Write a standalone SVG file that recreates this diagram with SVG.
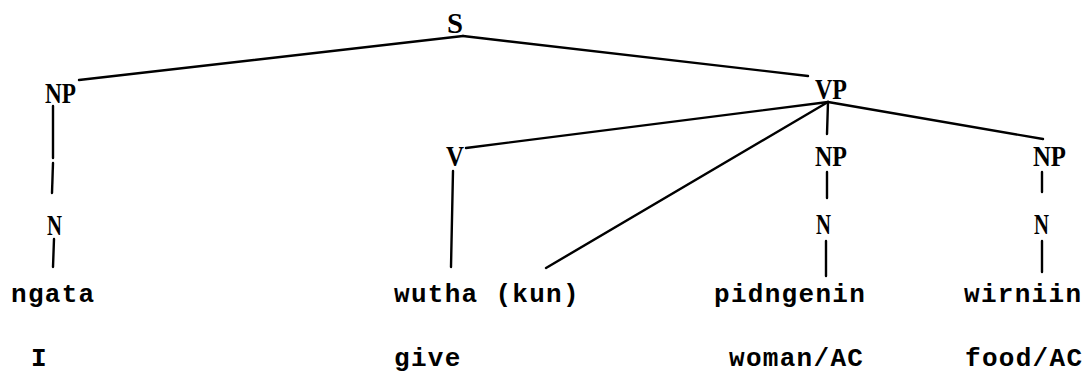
<svg xmlns="http://www.w3.org/2000/svg" width="1087" height="374" viewBox="0 0 1087 374">
<style>
.lab{font-family:"Liberation Serif","Times New Roman",serif;font-weight:bold;font-size:29px;fill:#000}
.wd{font-family:"Liberation Mono","Courier New",monospace;font-weight:bold;font-size:26px;letter-spacing:1.3px;fill:#000}
.ln{stroke:#000;stroke-width:2.4;fill:none;stroke-linecap:round}
</style>
<rect width="1087" height="374" fill="#fff"/>
<g id="connectors" class="ln">
<line x1="463" y1="36" x2="79" y2="80"/>
<line x1="463" y1="36" x2="808" y2="76"/>
<line x1="828" y1="102" x2="466" y2="148"/>
<line x1="828" y1="102" x2="827" y2="134"/>
<line x1="828" y1="102" x2="1043" y2="139"/>
<line x1="828" y1="102" x2="546" y2="268"/>
<line x1="53" y1="106" x2="53" y2="158"/>
<line x1="53" y1="163" x2="52" y2="193"/>
<line x1="54" y1="239" x2="53" y2="267"/>
<line x1="453" y1="171" x2="451" y2="267"/>
<line x1="827" y1="172" x2="827" y2="198"/>
<line x1="826" y1="241" x2="826" y2="276"/>
<line x1="1042" y1="172" x2="1042" y2="192"/>
<line x1="1042" y1="241" x2="1042" y2="272"/>
</g>
<g id="S"><text class="lab" x="447" y="33" textLength="16" lengthAdjust="spacingAndGlyphs">S</text></g>
<g id="NP1"><text class="lab" x="45" y="103" textLength="31" lengthAdjust="spacingAndGlyphs">NP</text></g>
<g id="VP"><text class="lab" x="815" y="99" textLength="32" lengthAdjust="spacingAndGlyphs">VP</text></g>
<g id="V"><text class="lab" x="446" y="166" textLength="18" lengthAdjust="spacingAndGlyphs">V</text></g>
<g id="NP2"><text class="lab" x="815" y="166" textLength="32" lengthAdjust="spacingAndGlyphs">NP</text></g>
<g id="NP3"><text class="lab" x="1033" y="166" textLength="33" lengthAdjust="spacingAndGlyphs">NP</text></g>
<g id="N1"><text class="lab" x="47" y="235" textLength="15" lengthAdjust="spacingAndGlyphs">N</text></g>
<g id="N2"><text class="lab" x="816" y="234" textLength="15" lengthAdjust="spacingAndGlyphs">N</text></g>
<g id="N3"><text class="lab" x="1034" y="234" textLength="15" lengthAdjust="spacingAndGlyphs">N</text></g>
<g id="w-ngata"><text class="wd" x="11" y="302">ngata</text></g>
<g id="w-wutha"><text class="wd" x="394" y="302">wutha (kun)</text></g>
<g id="w-pidngenin"><text class="wd" x="714" y="302">pidngenin</text></g>
<g id="w-wirniin"><text class="wd" x="964" y="302">wirniin</text></g>
<g id="g-I"><text class="wd" x="31" y="366">I</text></g>
<g id="g-give"><text class="wd" x="394" y="366">give</text></g>
<g id="g-woman"><text class="wd" x="729" y="366">woman/AC</text></g>
<g id="g-food"><text class="wd" x="965" y="366">food/AC</text></g>
</svg>
